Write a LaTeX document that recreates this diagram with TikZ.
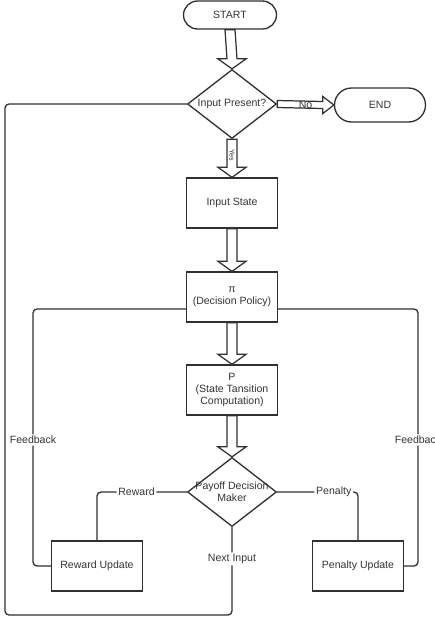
\documentclass[tikz,border=0pt]{standalone}
\usepackage{fontspec}
\setmainfont{Liberation Sans}
\usepackage{tikz}
\usetikzlibrary{calc,shapes.geometric}
\definecolor{flowline}{HTML}{303030}
\definecolor{flowtext}{HTML}{333333}

% hollow block arrows between two named nodes
\newcommand{\hollowdown}[2]{%
  \draw[hollow] ($(#1.south)+(-5,0)$) -- ($(#2.north)+(-5,-10)$) -- ++(-9,0)
    -- (#2.north) -- ++(14,-10) -- ++(-9,0) -- ($(#1.south)+(5,0)$) -- cycle;}
\newcommand{\hollowright}[2]{%
  \draw[hollow] ($(#1.east)+(0,-3.5)$) -- ($(#2.west)+(-11,-3.5)$) -- ++(0,-5)
    -- (#2.west) -- ++(-11,8.5) -- ++(0,-5) -- ($(#1.east)+(0,3.5)$) -- cycle;}

\begin{document}
\begin{tikzpicture}[x=0.02cm, y=-0.02cm,
  every node/.style={font=\fontsize{6}{7}\selectfont, text=flowtext},
  box/.style={draw=flowline, line width=0.75pt, minimum width=1.82cm,
    minimum height=1cm, align=center, inner sep=1pt},
  term/.style={draw=flowline, line width=0.75pt},
  choice/.style={diamond, draw=flowline, line width=0.75pt, minimum width=1.78cm,
    minimum height=1.38cm, inner sep=0pt},
  hollow/.style={draw=flowline, fill=white, line width=0.7pt},
  flow/.style={draw=flowline, line width=0.75pt, rounded corners=0.08cm},
  tag/.style={fill=white, inner sep=1pt}]
  \useasboundingbox (0,0) rectangle (435,627);
  \clip (0,0) rectangle (435,627);

  % ── Main column ──
  \node (start) [term, minimum width=1.86cm, minimum height=0.56cm,
    rounded corners=0.28cm] at (230,15) {START};
  \node (decide) [choice, label=center:Input Present?] at (232,104) {};
  \node (end) [term, minimum width=1.82cm, minimum height=0.68cm,
    rounded corners=0.34cm] at (380,105) {END};
  \node (state) [box] at (232,203) {Input State};
  \node (policy) [box] at (232,297) {π\\(Decision Policy)};
  \node (trans) [box] at (232,390) {P\\(State Tansition\\Computation)};
  \node (payoff) [choice, label={[align=center]center:Payoff Decision\\Maker}]
    at (232,492) {};
  % Updates
  \node (reward) [box] at (97,566) {Reward Update};
  \node (penalty) [box] at (358,566) {Penalty Update};

  % ── Block arrows ──
  \hollowdown{start}{decide}
  \hollowdown{decide}{state}
  \hollowdown{state}{policy}
  \hollowdown{policy}{trans}
  \hollowdown{trans}{payoff}
  \hollowright{decide}{end}
  \node (yeslbl) [rotate=-90, font=\fontsize{4}{5}\selectfont]
    at ($(decide.south)!0.42!(state.north)$) {Yes};
  \node (nolbl) at ($(decide.east)!0.5!(end.west)$) {No};

  % ── Feedback loops ──
  \coordinate (loop) at (5,615);
  \coordinate (fbL) at (33,440);
  \coordinate (fbR) at (418,440);
  \draw[flow] (payoff.south) |- node[tag, pos=0.18] (nextlbl) {Next Input} (loop)
    |- (decide.west);
  \draw[flow] ($(policy.west)+(0,12)$) -| (fbL) node[tag] (fbLlbl) {Feedback}
    |- (reward.west);
  \draw[flow] ($(policy.east)+(0,12)$) -| (fbR) node[tag] (fbRlbl) {Feedback}
    |- (penalty.east);
  \draw[flow] (payoff.west) -| node[tag, pos=0.28] (rewlbl) {Reward} (reward.north);
  \draw[flow] (payoff.east) -| node[tag, pos=0.35] (penlbl) {Penalty} (penalty.north);
\end{tikzpicture}
\end{document}
